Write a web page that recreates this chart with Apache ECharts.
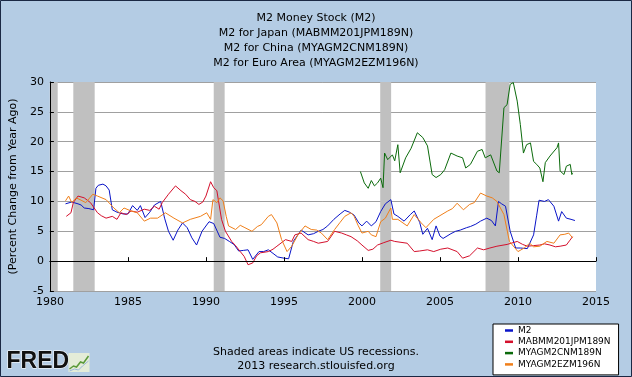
<!DOCTYPE html>
<html>
<head>
<meta charset="utf-8">
<script src="https://cdn.jsdelivr.net/npm/echarts@6/dist/echarts.min.js"></script>
<style>
  html, body { margin: 0; padding: 0; background: #b4cce4; }
  #chart { width: 632px; height: 377px; }
</style>
</head>
<body>
<div id="chart"></div>
<script>
// title lines and legend names
var titleLines = ['M2 Money Stock (M2)', 'M2 for Japan (MABMM201JPM189N)', 'M2 for China (MYAGM2CNM189N)', 'M2 for Euro Area (MYAGM2EZM196N)'];
var seriesNames = ['M2', 'MABMM201JPM189N', 'MYAGM2CNM189N', 'MYAGM2EZM196N'];
var seriesColors = ['#0a14c8', '#d4102c', '#0b6a0b', '#f07f1a'];

// US recessions [start, end] in decimal years
var recessions = [[1980.0, 1980.5], [1981.5, 1982.87], [1990.5, 1991.2], [2001.17, 2001.87], [2007.92, 2009.45]];

// percent change from year ago, [year, value]
var m2 = [
  [1981.0, 9.6], [1981.4, 9.9], [1981.8, 9.6], [1982.0, 9.4], [1982.2, 8.9], [1982.5, 8.8], [1982.8, 8.6],
  [1982.95, 12.2], [1983.1, 12.7], [1983.4, 12.9], [1983.6, 12.6], [1983.8, 11.9], [1984.0, 8.6], [1984.3, 8.2],
  [1984.7, 7.9], [1985.0, 7.9], [1985.3, 9.3], [1985.6, 8.5], [1985.8, 9.3], [1986.1, 7.3], [1986.4, 8.2],
  [1986.7, 9.4], [1987.1, 10.0], [1987.35, 7.2], [1987.6, 5.0], [1987.9, 3.5], [1988.2, 5.2], [1988.5, 6.4],
  [1988.8, 5.6], [1989.1, 3.9], [1989.4, 2.7], [1989.75, 5.0], [1990.2, 6.6], [1990.5, 6.3], [1990.9, 4.0],
  [1991.2, 3.8], [1991.5, 3.3], [1991.8, 2.8], [1992.1, 1.7], [1992.4, 1.8], [1992.7, 1.9], [1993.0, 0.3],
  [1993.4, 1.6], [1993.7, 1.6], [1994.0, 1.9], [1994.3, 1.3], [1994.6, 0.7], [1995.0, 0.5], [1995.3, 0.4],
  [1995.6, 3.3], [1996.1, 5.2], [1996.55, 4.4], [1996.9, 4.6], [1997.2, 5.0], [1997.5, 5.3], [1997.8, 5.9],
  [1998.2, 7.0], [1998.6, 7.9], [1998.9, 8.5], [1999.2, 8.2], [1999.5, 7.7], [1999.8, 6.4], [2000.0, 5.9],
  [2000.3, 6.7], [2000.6, 5.9], [2000.9, 6.6], [2001.2, 8.3], [2001.5, 9.6], [2001.85, 10.3], [2002.05, 7.9],
  [2002.3, 7.5], [2002.7, 6.7], [2003.1, 7.8], [2003.35, 8.4], [2003.7, 6.5], [2003.9, 4.5], [2004.2, 5.5],
  [2004.5, 3.6], [2004.75, 5.9], [2005.0, 4.2], [2005.2, 3.8], [2005.7, 4.6], [2006.0, 5.0], [2006.3, 5.2],
  [2006.7, 5.6], [2006.95, 5.8], [2007.3, 6.2], [2007.6, 6.7], [2008.0, 7.2], [2008.3, 6.8], [2008.55, 5.9],
  [2008.75, 10.0], [2008.95, 9.6], [2009.2, 9.2], [2009.5, 5.0], [2009.85, 2.2], [2010.15, 2.2], [2010.6, 2.1],
  [2011.0, 4.4], [2011.2, 7.7], [2011.35, 10.2], [2011.7, 10.0], [2011.95, 10.3], [2012.3, 9.2], [2012.6, 6.7],
  [2012.8, 8.3], [2013.1, 7.2], [2013.4, 7.0], [2013.65, 6.8]
];
var japan = [
  [1981.05, 7.5], [1981.35, 8.1], [1981.5, 9.8], [1981.8, 10.9], [1982.2, 10.6], [1982.6, 9.8], [1983.05, 8.1],
  [1983.3, 7.6], [1983.6, 7.2], [1984.0, 7.5], [1984.3, 7.0], [1984.55, 8.1], [1984.9, 7.8], [1985.2, 8.4],
  [1985.6, 8.2], [1986.05, 8.7], [1986.4, 8.5], [1986.7, 9.2], [1987.0, 8.7], [1987.2, 9.8], [1987.6, 11.2],
  [1988.05, 12.6], [1988.4, 11.8], [1988.7, 11.2], [1989.0, 10.3], [1989.3, 10.0], [1989.55, 9.5], [1989.8, 9.9],
  [1990.0, 10.9], [1990.3, 13.3], [1990.5, 12.3], [1990.7, 11.8], [1991.0, 7.0], [1991.25, 5.0], [1991.65, 3.3],
  [1991.9, 2.6], [1992.2, 1.6], [1992.45, 0.8], [1992.7, -0.6], [1993.0, -0.3], [1993.25, 0.9], [1993.5, 1.4],
  [1994.0, 1.6], [1994.3, 2.0], [1994.55, 2.5], [1995.1, 3.6], [1995.5, 3.3], [1995.7, 4.4], [1996.1, 4.7],
  [1996.55, 3.6], [1996.9, 3.3], [1997.2, 3.0], [1997.8, 3.3], [1998.25, 5.0], [1998.7, 4.7], [1999.0, 4.4],
  [1999.3, 4.1], [1999.7, 3.4], [2000.0, 2.7], [2000.4, 1.8], [2000.7, 2.0], [2001.0, 2.7], [2001.4, 3.1],
  [2001.85, 3.5], [2002.1, 3.3], [2002.9, 3.0], [2003.35, 1.6], [2003.7, 1.7], [2004.2, 1.9], [2004.6, 1.6],
  [2005.05, 2.0], [2005.5, 2.2], [2006.1, 1.6], [2006.45, 0.5], [2006.9, 0.9], [2007.4, 2.2], [2007.8, 1.9],
  [2008.2, 2.2], [2008.65, 2.5], [2009.3, 2.8], [2009.95, 3.3], [2010.3, 2.8], [2010.6, 2.5], [2011.0, 2.6],
  [2011.4, 2.7], [2011.7, 2.9], [2012.05, 2.7], [2012.4, 2.4], [2012.7, 2.5], [2013.1, 2.7], [2013.3, 3.4],
  [2013.5, 4.1]
];
var china = [
  [1999.9, 15.0], [2000.15, 13.1], [2000.4, 12.2], [2000.6, 13.5], [2000.8, 12.6], [2001.0, 13.1], [2001.2, 13.9],
  [2001.35, 12.3], [2001.45, 18.1], [2001.65, 17.0], [2001.95, 17.8], [2002.1, 16.8], [2002.3, 19.5], [2002.45, 14.8],
  [2002.8, 17.3], [2003.15, 18.9], [2003.55, 21.5], [2003.9, 20.7], [2004.2, 19.3], [2004.5, 14.5], [2004.75, 14.0],
  [2005.05, 14.5], [2005.3, 15.3], [2005.7, 18.1], [2006.1, 17.6], [2006.45, 17.3], [2006.65, 15.6], [2006.95, 16.2],
  [2007.4, 18.4], [2007.7, 18.7], [2007.9, 17.3], [2008.25, 17.8], [2008.65, 15.1], [2008.8, 14.8], [2009.1, 25.7],
  [2009.3, 26.2], [2009.5, 29.6], [2009.7, 29.9], [2009.95, 26.8], [2010.15, 22.9], [2010.35, 18.1], [2010.55, 19.5],
  [2010.8, 19.8], [2011.0, 16.7], [2011.2, 16.2], [2011.4, 15.6], [2011.6, 13.3], [2011.75, 16.5], [2012.05, 17.6],
  [2012.5, 19.0], [2012.6, 19.8], [2012.7, 15.1], [2012.95, 14.5], [2013.1, 15.9], [2013.35, 16.2], [2013.45, 14.5],
  [2013.5, 14.8]
];
var euro = [
  [1981.0, 10.1], [1981.2, 10.9], [1981.4, 9.8], [1981.7, 10.6], [1982.0, 10.2], [1982.3, 9.8], [1982.75, 11.2],
  [1983.05, 10.9], [1983.6, 10.3], [1984.1, 8.9], [1984.45, 8.1], [1984.75, 8.9], [1985.2, 8.4], [1985.6, 8.1],
  [1986.05, 6.7], [1986.45, 7.2], [1986.9, 7.2], [1987.4, 8.1], [1987.95, 7.2], [1988.5, 6.4], [1989.0, 7.0],
  [1989.65, 7.5], [1990.05, 8.1], [1990.3, 7.0], [1990.45, 10.3], [1990.7, 9.8], [1990.9, 10.6], [1991.1, 10.1],
  [1991.3, 7.5], [1991.45, 5.9], [1991.9, 5.3], [1992.2, 6.0], [1992.5, 5.6], [1992.95, 5.0], [1993.3, 5.8],
  [1993.55, 6.1], [1994.0, 7.5], [1994.2, 7.8], [1994.55, 6.4], [1994.85, 3.6], [1995.2, 1.6], [1995.5, 2.5],
  [1995.9, 4.4], [1996.35, 5.9], [1996.75, 5.3], [1997.1, 5.2], [1997.4, 4.7], [1997.8, 3.6], [1998.25, 5.3],
  [1998.6, 6.5], [1998.9, 7.5], [1999.3, 8.1], [1999.5, 7.5], [1999.75, 6.0], [2000.0, 4.7], [2000.4, 5.0],
  [2000.6, 4.4], [2000.9, 4.1], [2001.2, 6.6], [2001.5, 7.2], [2001.85, 8.9], [2001.95, 7.0], [2002.3, 7.0],
  [2002.9, 5.9], [2003.35, 7.8], [2003.8, 6.4], [2004.1, 5.6], [2004.6, 7.0], [2005.5, 8.4], [2005.8, 8.8],
  [2006.1, 9.7], [2006.5, 8.6], [2006.9, 9.5], [2007.2, 9.8], [2007.6, 11.4], [2008.0, 10.9], [2008.35, 10.6],
  [2008.65, 10.0], [2009.1, 7.8], [2009.45, 3.3], [2010.0, 1.6], [2010.4, 2.2], [2010.75, 3.0], [2011.0, 2.4],
  [2011.4, 2.5], [2011.85, 3.3], [2012.3, 3.0], [2012.7, 4.4], [2013.0, 4.5], [2013.25, 4.7], [2013.5, 3.9]
];

var chartDom = document.getElementById('chart');
var myChart = echarts.init(chartDom);

var font = 'DejaVu Sans';

var lineSeries = [m2, japan, china, euro].map(function (d, i) {
  return {
    name: seriesNames[i],
    type: 'line',
    data: d,
    showSymbol: false,
    symbol: 'none',
    z: 3,
    lineStyle: { width: 1, color: seriesColors[i] },
    itemStyle: { color: seriesColors[i] }
  };
});

var option = {
  animation: false,
  backgroundColor: '#b4cce4',
  title: {
    text: titleLines.join('\n'),
    left: 'center',
    top: 6,
    textStyle: { fontFamily: font, fontSize: 11, fontWeight: 'normal', color: '#000', lineHeight: 15 }
  },
  legend: {
    data: seriesNames,
    orient: 'vertical',
    left: 493,
    top: 324,
    padding: [2, 8, 6, 12],
    itemGap: 2.3,
    itemWidth: 8,
    itemHeight: 2.5,
    itemTextGap: 9,
    icon: 'rect',
    backgroundColor: '#fff',
    borderColor: '#000',
    borderWidth: 1,
    borderRadius: 0,
    textStyle: { fontFamily: font, fontSize: 9, color: '#000', lineHeight: 9 }
  },
  grid: {
    left: 47,
    right: 36,
    top: 82,
    bottom: 86,
    show: true,
    backgroundColor: '#fff',
    borderWidth: 0
  },
  xAxis: {
    type: 'value',
    min: 1980,
    max: 2015,
    interval: 5,
    z: 5,
    axisLine: { lineStyle: { color: '#000', width: 1 } },
    axisTick: { inside: true, length: 4, lineStyle: { color: '#000' } },
    axisLabel: {
      fontFamily: font, fontSize: 11, color: '#000', margin: 6,
      formatter: function (v) { return String(v); }
    },
    splitLine: { show: false }
  },
  yAxis: [
    {
      type: 'value',
      min: -5,
      max: 30,
      interval: 5,
      z: 5,
      name: '(Percent Change from Year Ago)',
      nameLocation: 'middle',
      nameGap: 25,
      nameTextStyle: { fontFamily: font, fontSize: 11, color: '#000' },
      axisLine: { show: true, lineStyle: { color: '#000', width: 1 } },
      axisTick: { show: true, inside: true, length: 4, lineStyle: { color: '#000' } },
      axisLabel: { fontFamily: font, fontSize: 11, color: '#000', margin: 6 },
      splitLine: { show: false }
    },
    {
      type: 'value',
      min: -5,
      max: 30,
      interval: 5,
      position: 'left',
      z: 0,
      axisLine: { show: false },
      axisTick: { show: false },
      axisLabel: { show: false },
      splitLine: { show: true, lineStyle: { color: '#a0a0a0', width: 1 } }
    }
  ],
  series: [
    {
      name: 'recessions',
      type: 'line',
      data: [],
      z: 1,
      silent: true,
      markArea: {
        silent: true,
        label: { show: false },
        itemStyle: { color: '#c0c0c0', opacity: 1 },
        data: recessions.map(function (r) {
          return [{ xAxis: r[0] }, { xAxis: r[1] }];
        })
      }
    }
  ].concat(lineSeries),
  graphic: [
    {
      type: 'rect',
      shape: { x: 0.5, y: 0.5, width: 631, height: 376 },
      style: { fill: 'none', stroke: '#1a2844', lineWidth: 1 },
      z: 10
    },
    {
      type: 'text',
      left: 'center',
      top: 345,
      style: {
        text: 'Shaded areas indicate US recessions.\n2013 research.stlouisfed.org',
        font: '11px "DejaVu Sans"',
        fill: '#000',
        lineHeight: 14,
        textAlign: 'center'
      }
    },
    {
      type: 'text',
      left: 6,
      top: 350,
      style: {
        text: 'FRED',
        font: 'bold 23px "Liberation Sans"',
        fill: '#111',
        stroke: '#fff',
        lineWidth: 1
      }
    },
    {
      type: 'group',
      left: 67,
      top: 353,
      children: [
        { type: 'rect', shape: { x: 0, y: 0, width: 21, height: 19 }, style: { fill: '#e4ecd8' } },
        { type: 'polyline', shape: { points: [[1, 16], [5, 13], [8, 14], [12, 9], [15, 10], [20, 3]] }, style: { stroke: '#5a9a3a', lineWidth: 1.5, fill: 'none' } },
        { type: 'polyline', shape: { points: [[1, 18], [6, 16], [10, 17], [14, 13], [20, 8]] }, style: { stroke: '#9ab8d8', lineWidth: 1, fill: 'none' } }
      ]
    }
  ]
};

option && myChart.setOption(option);
</script>
</body>
</html>
